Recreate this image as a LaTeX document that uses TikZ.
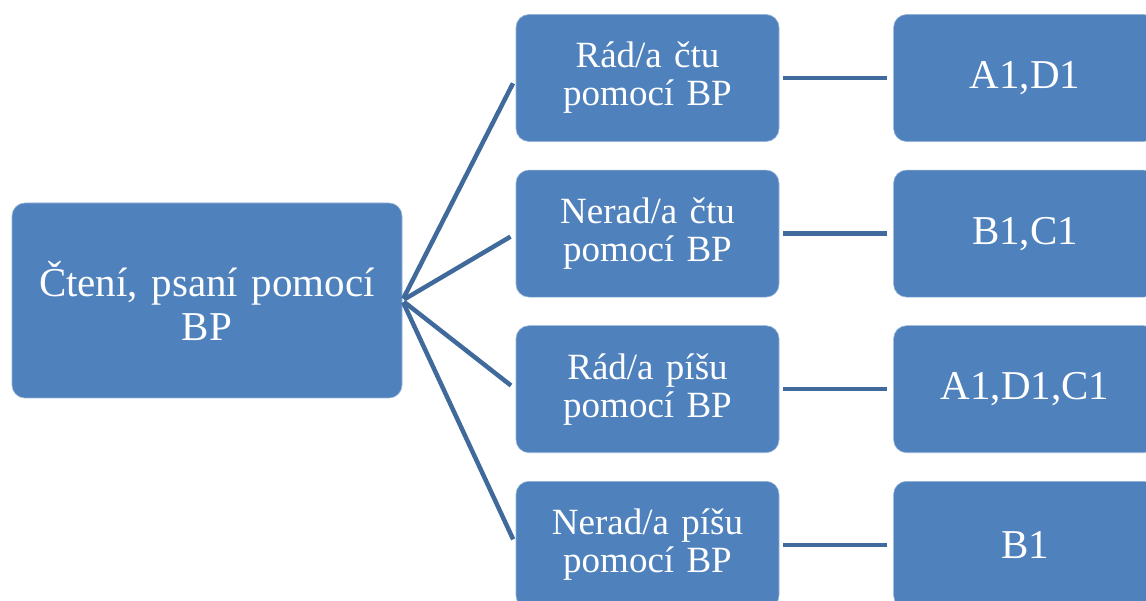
\documentclass[tikz,border=0pt]{standalone}
\usepackage{fontspec}
\setmainfont{Liberation Serif}
\usetikzlibrary{positioning}
\definecolor{boxblue}{RGB}{79,129,189}
\definecolor{linkblue}{RGB}{64,106,155}

\begin{document}
\begin{tikzpicture}[
  x=1pt, y=1pt,
  every node/.style={fill=boxblue, draw=boxblue!60!white, line width=0.6pt, rounded corners=13pt,
    text=white, align=center, inner sep=0pt},
  root box/.style={minimum width=390pt, minimum height=195pt, text width=370pt,
    font=\fontsize{41}{44}\selectfont},
  mid box/.style={minimum width=263pt, minimum height=127pt, text width=250pt,
    font=\fontsize{37}{38}\selectfont},
  end box/.style={minimum width=263pt, minimum height=127pt, text width=250pt,
    font=\fontsize{41}{44}\selectfont},
  link/.style={draw=linkblue, line width=4.5pt}
]
\useasboundingbox (0,0) rectangle (1146,-601);
\clip (0,0) rectangle (1146,-601);

\node [root box] (root) at (207,-300.5) {Čtení, psaní pomocí\\BP};

\node [mid box] (cteRad) at (647.5,-78) {Rád/a čtu\\pomocí BP};
\node [mid box, below=28pt of cteRad] (cteNerad) {Nerad/a čtu\\pomocí BP};
\node [mid box, below=28pt of cteNerad] (pisRad) {Rád/a píšu\\pomocí BP};
\node [mid box, below=28pt of pisRad] (pisNerad) {Nerad/a píšu\\pomocí BP};

\node [end box, right=114pt of cteRad] (skupA) {A1,D1};
\node [end box, right=114pt of cteNerad] (skupB) {B1,C1};
\node [end box, right=114pt of pisRad] (skupC) {A1,D1,C1};
\node [end box, right=114pt of pisNerad] (skupD) {B1};

% spojnice
\draw [link, shorten <=2pt, shorten >=6pt] (root.east) -- (cteRad.west);
\draw [link, shorten <=2pt, shorten >=6pt] (root.east) -- (cteNerad.west);
\draw [link, shorten <=2pt, shorten >=6pt] (root.east) -- (pisRad.west);
\draw [link, shorten <=2pt, shorten >=6pt] (root.east) -- (pisNerad.west);

\draw [link, shorten <=4pt, shorten >=6pt] (cteRad.east) -- (skupA.west);
\draw [link, shorten <=4pt, shorten >=6pt] (cteNerad.east) -- (skupB.west);
\draw [link, shorten <=4pt, shorten >=6pt] (pisRad.east) -- (skupC.west);
\draw [link, shorten <=4pt, shorten >=6pt] (pisNerad.east) -- (skupD.west);

\end{tikzpicture}
\end{document}
